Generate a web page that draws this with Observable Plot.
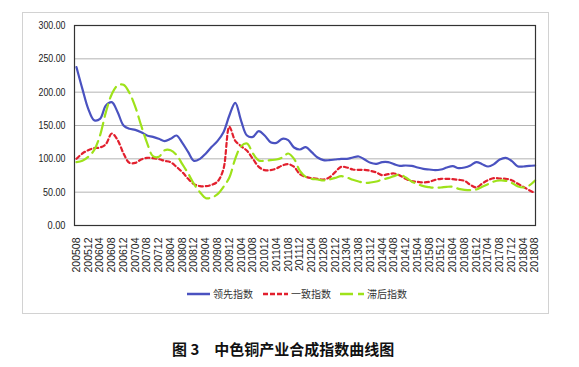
<!DOCTYPE html>
<html>
<head>
<meta charset="utf-8">
<script src="https://cdn.jsdelivr.net/npm/d3@7"></script>
<script src="https://cdn.jsdelivr.net/npm/@observablehq/plot@0.6"></script>
<style>
  body { margin:0; width:579px; height:367px; position:relative; background:#fff; overflow:hidden; }
  #box { position:absolute; left:22px; top:12px; width:525px; height:300px; border:1px solid #d2d2d2; }
  #chart { position:absolute; left:0; top:0; }
  .leg { position:absolute; top:287px; font-family:"Noto Sans CJK SC","Noto Sans",sans-serif; font-size:10px; color:#333; line-height:14px; }
  #caption { position:absolute; left:172px; top:338px; font-family:"Noto Sans CJK SC",sans-serif; font-weight:bold; font-size:15px; color:#111; white-space:pre; }
</style>
</head>
<body>
<div id="box"></div>
<div id="chart"></div>
<div id="legend"></div>
<div id="caption">图 3　中色铜产业合成指数曲线图</div>
<script>
// Tick labels every 4 months (month index 0..156)
const tickLabels = ["200508","200512","200604","200608","200612","200704","200708","200712",
"200804","200808","200812","200904","200908","200912","201004","201008","201012","201104",
"201108","201112","201204","201208","201212","201304","201308","201312","201404","201408",
"201412","201504","201508","201512","201604","201608","201612","201704","201708","201712",
"201804","201808"];

// Values sampled every 2 months (index 0,2,...,156)
const leading = [237.5,205,175,158,160,180,185,170,150,145,143.5,140,135,133,130,126.5,130,135,124,110,
97,100,108,118,127,140,165,184,157,135,133,141.5,135,125,124,130,128,117,114,117.5,
110,102,98,98,99,100,100,102,103.5,99,94,92.5,95,95,92,89.5,90,89.5,87,85,
84,83,84,87,89,86,87,90,95,92,88.5,92,99,101.5,97,89,88.5,89.5,90];
const coincident = [100,108,113,116,117,122,138,128,108,94,94,99,101.5,101,99.5,97,95,88,80,70,
62,59,59,61,66,85,148,127,119,112,100,88,83,83,85.5,90,92,88,77,73,
71,70,69,72,80,88,87,84,83.5,83.5,82,79.5,75.5,77,78,75,70,66.5,65.5,64.5,
65.5,68.5,70,70,69.5,68.5,67,61,57,63,68,71,70.5,70,68,63,58,53,48.5];
const lagging = [95,97,103,113,135,170,197,210,211,199,178,150,124,104,103,113,113,106,92,78,
62,50,41,42,47,58,72,100,119,123,108,97.5,97,98,99,102,108,100,82,73,
70,69,67.5,69,71.5,74,72,68.5,66,64,64.5,66,69,71,74,76.5,72,66,62,59,
57.5,56.5,57,58,58,55,53.5,53,54,58,62,66,67.5,67,64,59,57,60,67.5];

const seriesNames = ["领先指数","一致指数","滞后指数"];
const seriesColors = ["#4a52c0","#e2202e","#9ee21a"];
const seriesDash = [null,"4,3","13,6"];

const rows = [];
[leading, coincident, lagging].forEach((arr, s) => {
  arr.forEach((v, k) => rows.push({i: k * 2, v, s: seriesNames[s]}));
});

const plot = Plot.plot({
  width: 579,
  height: 282,
  marginLeft: 74,
  marginRight: 44,
  marginTop: 25,
  marginBottom: 57,
  style: {fontFamily: "'Liberation Sans', Arial, sans-serif", color: "#222", background: "transparent"},
  x: {domain: [0, 156], range: [76, 534.6], ticks: d3.range(0, 157, 4), tickFormat: d => tickLabels[d / 4], tickSize: 0, tickRotate: -90, tickPadding: 12, label: null},
  y: {domain: [0, 300], ticks: d3.range(0, 301, 50), tickFormat: d3.format(".2f"), tickSize: 0, tickPadding: 9, label: null},
  marks: [
    Plot.ruleY(d3.range(50, 300, 50), {stroke: "#b4b4b4", strokeWidth: 1}),
    ...seriesNames.map((name, s) => Plot.line(rows.filter(r => r.s === name), {
      x: "i", y: "v", stroke: seriesColors[s], strokeWidth: 2.2,
      strokeDasharray: seriesDash[s], curve: "catmull-rom"
    })),
    Plot.frame({stroke: "#333", strokeWidth: 1.2})
  ]
});
plot.querySelectorAll("g[aria-label='y-axis tick label'] text").forEach(t => {
  t.setAttribute("font-size", "10.5");
  const n = t.textContent.length;
  t.setAttribute("textLength", String(n * 4.5));
  t.setAttribute("lengthAdjust", "spacingAndGlyphs");
});
plot.querySelectorAll("g[aria-label='x-axis tick label'] text").forEach(t => {
  t.setAttribute("font-size", "10.5");
});
document.getElementById("chart").appendChild(plot);

// Legend
const legX = [[187, 213], [263, 291], [340, 367]];
const leg = document.getElementById("legend");
seriesNames.forEach((name, s) => {
  const svg = d3.create("svg").attr("width", legX[s][1] - legX[s][0] - 2).attr("height", 14)
    .style("position", "absolute").style("left", legX[s][0] + "px").style("top", "287px");
  svg.append("line").attr("x1", 0).attr("x2", legX[s][1] - legX[s][0] - 3).attr("y1", 7).attr("y2", 7)
    .attr("stroke", seriesColors[s]).attr("stroke-width", 2.5)
    .attr("stroke-dasharray", s === 0 ? null : (s === 1 ? "5,2" : "13,5"));
  leg.appendChild(svg.node());
  const sp = document.createElement("span");
  sp.className = "leg"; sp.style.left = legX[s][1] + "px"; sp.textContent = name;
  leg.appendChild(sp);
});
</script>
</body>
</html>
